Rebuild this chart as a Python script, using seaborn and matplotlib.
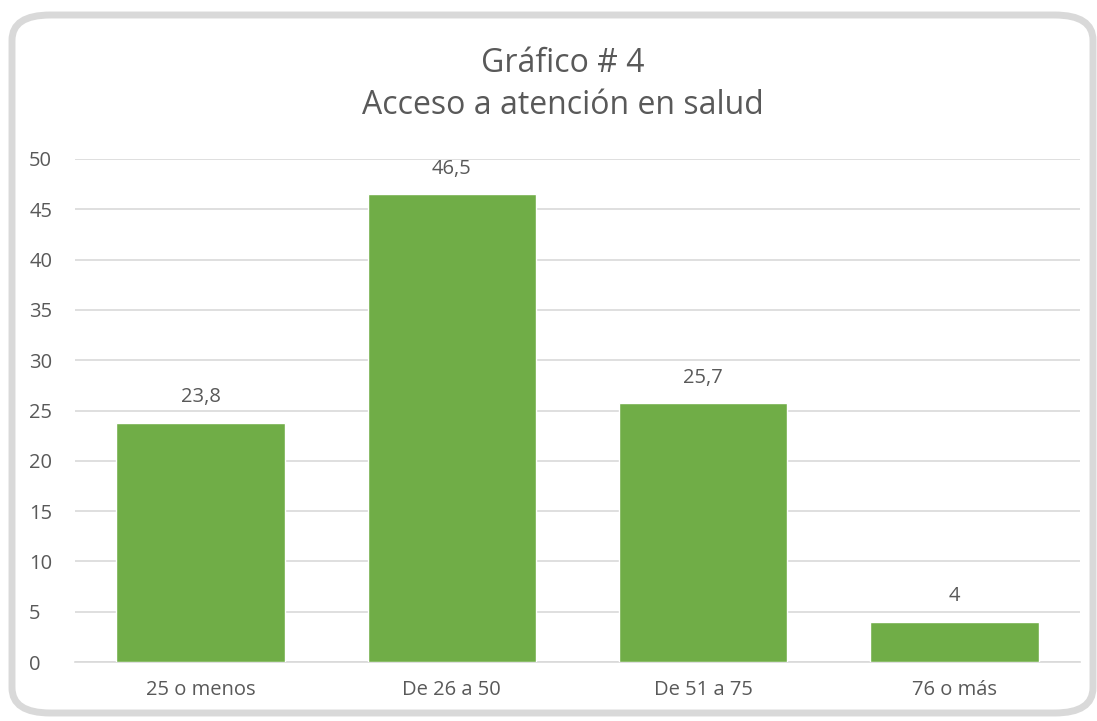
import matplotlib
matplotlib.use("Agg")
import matplotlib.pyplot as plt
import seaborn as sns
import pandas as pd
from matplotlib.patches import FancyBboxPatch

# datos del grafico
categorias = ["25 o menos", "De 26 a 50", "De 51 a 75", "76 o más"]
valores = [23.8, 46.5, 25.7, 4]
etiquetas = ["23,8", "46,5", "25,7", "4"]
ticks_y = [0, 5, 10, 15, 20, 25, 30, 35, 40, 45, 50]

verde = "#70AD47"
gris_texto = "#595959"
gris_linea = "#D9D9D9"

sns.set_theme(style="white")
plt.rcParams["font.family"] = ["Open Sans", "DejaVu Sans"]

df = pd.DataFrame({"Categoria": categorias, "Valor": valores})

fig = plt.figure(figsize=(10.97, 7.21), dpi=100)
W, H = 1097, 721

# marco redondeado
marco = FancyBboxPatch((12 / W, (H - 713) / H), (1093 - 12) / W, (713 - 15) / H,
                       boxstyle="round,pad=0,rounding_size=0.035",
                       transform=fig.transFigure, facecolor="none",
                       edgecolor=gris_linea, linewidth=5, zorder=-1)
fig.patches.append(marco)

ax = fig.add_axes([75 / W, (H - 662) / H, (1080 - 75) / W, (662 - 159) / H])
ax.set_facecolor("none")

sns.barplot(data=df, x="Categoria", y="Valor", color=verde, width=0.67,
            saturation=1, ax=ax, zorder=3)

ax.set_ylim(0, 50)
ax.set_xlim(-0.5, 3.5)
ax.set_yticks(ticks_y)
ax.yaxis.grid(True, color=gris_linea, linewidth=1.2, zorder=0)
ax.set_axisbelow(True)
for s in ["top", "right", "left"]:
    ax.spines[s].set_visible(False)
ax.spines["bottom"].set_color(gris_linea)
ax.spines["bottom"].set_linewidth(1.2)
ax.tick_params(axis="both", length=0, labelsize=14.5, colors=gris_texto)
ax.tick_params(axis="y", pad=33)
ax.tick_params(axis="x", pad=13)
for lab in ax.get_yticklabels():
    lab.set_horizontalalignment("left")
ax.set_xlabel("")
ax.set_ylabel("")

for i, (v, t) in enumerate(zip(valores, etiquetas)):
    ax.annotate(t, (i, v), xytext=(0, 11), textcoords="offset points",
                ha="center", va="bottom", fontsize=14.5, color=gris_texto)

fig.text(563 / W, 1 - 63 / H, "Gráfico # 4", ha="center", va="center",
         fontsize=23, color=gris_texto)
fig.text(563 / W, 1 - 105 / H, "Acceso a atención en salud", ha="center",
         va="center", fontsize=23, color=gris_texto)

fig.savefig("out.png", dpi=100)
